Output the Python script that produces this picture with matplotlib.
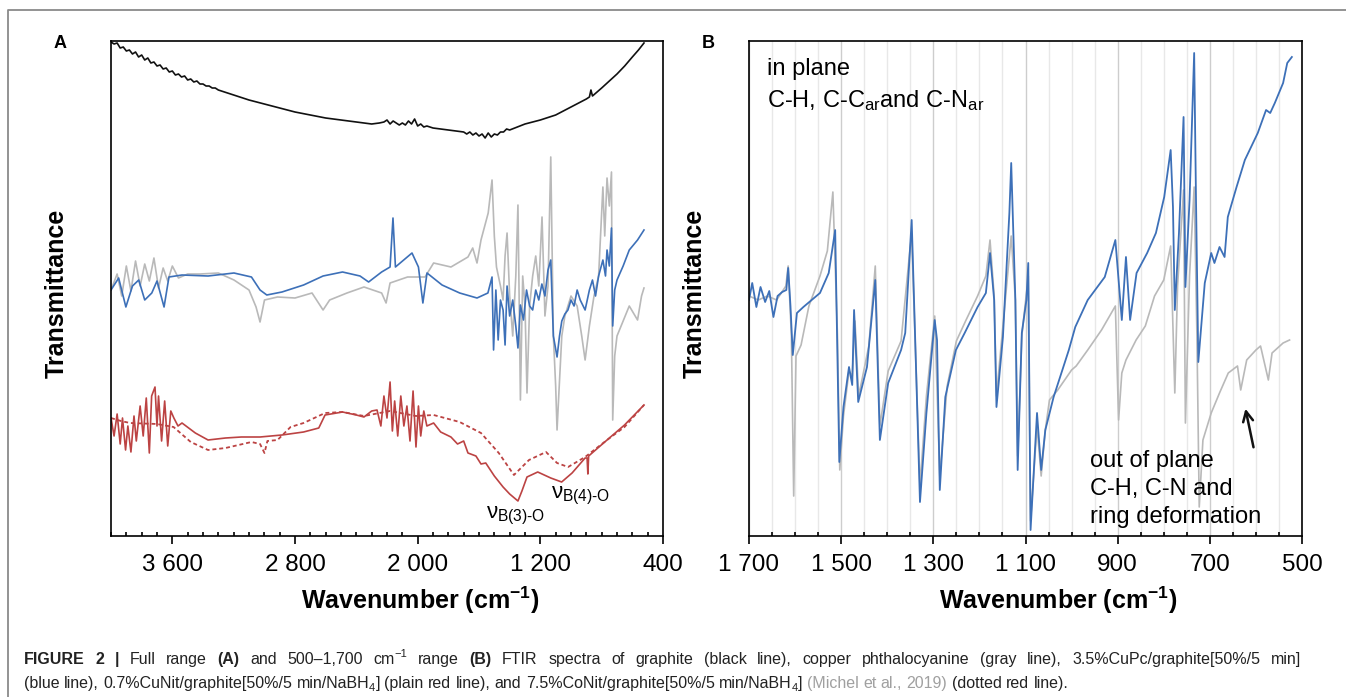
import matplotlib
matplotlib.use("Agg")
import matplotlib.pyplot as plt
from matplotlib.ticker import FixedLocator, MultipleLocator, FuncFormatter

plt.rcParams['font.family'] = ['Liberation Sans', 'DejaVu Sans']
plt.rcParams['mathtext.fontset'] = 'custom'
plt.rcParams['mathtext.rm'] = 'Liberation Sans'
plt.rcParams['mathtext.it'] = 'Liberation Sans:italic'
plt.rcParams['mathtext.bf'] = 'Liberation Sans:bold'

# ---------- data (transmittance in arbitrary units) ----------

# panel A, graphite (black)
a_graphite_wn = [4000, 3980, 3960, 3940, 3920, 3900, 3880, 3860, 3840, 3820, 3800, 3780, 3760, 3740,
                 3720, 3700, 3680, 3660, 3640, 3620, 3600, 3580, 3560, 3540, 3520, 3500, 3480, 3460,
                 3440, 3420, 3400, 3380, 3360, 3340, 3320, 3300, 3200, 3100, 3000, 2900, 2800, 2700,
                 2600, 2500, 2400, 2300, 2250, 2220, 2200, 2180, 2160, 2140, 2120, 2100, 2080, 2060,
                 2040, 2020, 2000, 1980, 1960, 1940, 1900, 1850, 1800, 1750, 1700, 1680, 1660, 1640,
                 1620, 1600, 1580, 1560, 1540, 1520, 1500, 1480, 1460, 1440, 1420, 1400, 1350, 1300,
                 1200, 1100, 1000, 950, 900, 880, 870, 860, 800, 750, 700, 650, 600, 560, 524]
a_graphite_t = [494, 492, 493, 488, 489, 485, 486, 482, 484, 479, 481, 476, 478, 473,
                474, 470, 471, 467, 468, 464, 465, 461, 462, 459, 460, 456, 457, 454,
                455, 452, 452, 450, 450, 448, 448, 446, 441, 436, 432, 428, 424, 421,
                418, 416, 414, 412, 413, 414, 416, 412, 415, 413, 411, 413, 411, 415,
                412, 417, 410, 412, 409, 410, 408, 407, 406, 405, 404, 402, 404, 401,
                403, 400, 402, 398, 403, 399, 402, 401, 404, 404, 407, 406, 409, 412,
                416, 421, 429, 433, 437, 439, 446, 440, 448, 455, 462, 470, 479, 486, 493]

# panel A, copper phthalocyanine (gray)
a_cupc_wn = [4000, 3960, 3930, 3900, 3870, 3840, 3810, 3780, 3750, 3720, 3690, 3660, 3630, 3600,
             3560, 3500, 3420, 3300, 3198, 3100, 3054, 3028, 2999, 2914, 2800, 2689, 2617, 2574,
             2461, 2350, 2235, 2206, 2180, 2066, 1952, 1896, 1783, 1672, 1641, 1613, 1587, 1540,
             1515, 1500, 1486, 1460, 1443, 1430, 1417, 1400, 1380, 1360, 1346, 1335, 1330, 1315,
             1300, 1287, 1270, 1250, 1230, 1210, 1189, 1170, 1150, 1132, 1115, 1100, 1091, 1078,
             1060, 1040, 1000, 960, 930, 908, 880, 850, 820, 792, 780, 765, 750, 736, 728, 715,
             700, 660, 620, 566, 540, 524]
a_cupc_t = [246, 262, 240, 270, 245, 275, 250, 272, 255, 278, 248, 268, 255, 270,
            258, 262, 262, 263, 256, 246, 229, 214, 236, 239, 238, 243, 226, 236,
            243, 249, 243, 233, 253, 259, 259, 273, 269, 279, 288, 273, 296, 323,
            356, 300, 269, 250, 236, 280, 303, 240, 200, 260, 331, 200, 136, 260,
            230, 143, 230, 260, 280, 250, 319, 220, 250, 379, 200, 150, 106, 146,
            200, 220, 240, 230, 200, 176, 210, 240, 260, 349, 300, 358, 330, 364, 116, 180,
            200, 215, 230, 216, 240, 248]

# panel A, 3.5%CuPc/graphite (blue)
a_cupc_g_wn = [4000, 3950, 3903, 3860, 3819, 3780, 3734, 3700, 3654, 3622, 3537, 3367, 3198, 3084,
               3028, 2984, 2885, 2744, 2617, 2490, 2376, 2320, 2235, 2180, 2161, 2145, 2037, 1995,
               1966, 1939, 1841, 1726, 1613, 1542, 1515, 1505, 1490, 1475, 1460, 1443, 1430, 1417,
               1400, 1380, 1360, 1346, 1330, 1310, 1290, 1270, 1250, 1230, 1210, 1190, 1170, 1150,
               1132, 1115, 1091, 1075, 1060, 1040, 1020, 1000, 980, 960, 940, 908, 880, 860, 840,
               820, 792, 775, 765, 750, 736, 728, 715, 700, 660, 620, 566, 524]
a_cupc_g_t = [246, 258, 229, 250, 256, 236, 243, 255, 229, 259, 261, 260, 263, 259,
              246, 241, 244, 251, 260, 264, 260, 254, 264, 269, 318, 269, 283, 269,
              233, 263, 251, 243, 238, 243, 259, 186, 246, 196, 236, 226, 191, 250,
              220, 236, 210, 188, 231, 216, 246, 230, 226, 246, 236, 252, 240, 266,
              276, 200, 179, 200, 215, 222, 226, 236, 230, 246, 236, 226, 246, 256, 240,
              260, 276, 260, 286, 270, 308, 210, 246, 256, 270, 286, 296, 306]

# panel A, 0.7%CuNit/graphite (plain red)
a_cunit_wn = [4000, 3980, 3960, 3940, 3925, 3905, 3890, 3870, 3850, 3835, 3810, 3790, 3770, 3750,
              3735, 3713, 3700, 3690, 3670, 3650, 3630, 3610, 3590, 3563, 3537, 3450, 3367, 3253,
              3150, 3028, 2885, 2744, 2645, 2604, 2490, 2400, 2350, 2300, 2265, 2240, 2220, 2200,
              2180, 2165, 2150, 2130, 2110, 2090, 2070, 2050, 2030, 2011, 1995, 1980, 1960, 1940,
              1896, 1850, 1783, 1740, 1700, 1672, 1620, 1587, 1556, 1500, 1443, 1400, 1346, 1320,
              1287, 1217, 1132, 1061, 993, 908, 895, 890, 885, 765, 651, 524]
a_cunit_t = [118, 100, 122, 92, 118, 86, 110, 84, 120, 95, 130, 100, 138, 83,
             140, 149, 110, 140, 95, 135, 90, 125, 118, 110, 113, 103, 96, 98,
             99, 99, 101, 104, 108, 121, 124, 121, 119, 125, 126, 110, 140, 118,
             154, 105, 135, 100, 140, 110, 130, 95, 145, 89, 130, 100, 125, 110,
             113, 104, 99, 92, 95, 83, 80, 72, 73, 60, 49, 42, 35, 45,
             59, 64, 58, 54, 63, 78, 78, 62, 80, 96, 111, 131]

# panel A, 7.5%CoNit/graphite (dotted red)
a_conit_wn = [4000, 3935, 3876, 3700, 3592, 3480, 3367, 3253, 3084, 3028, 2999, 2980, 2914, 2829,
              2744, 2604, 2490, 2350, 2180, 2011, 1896, 1726, 1587, 1471, 1372, 1274, 1163, 1091,
              1019, 908, 765, 651, 524]
a_conit_t = [118, 115, 113, 112, 109, 94, 86, 88, 94, 92, 83, 95, 96, 109,
             113, 123, 124, 120, 125, 120, 121, 114, 103, 83, 61, 76, 84, 73,
             69, 79, 96, 109, 131]

# panel B, 3.5%CuPc/graphite (blue)
b_cupc_g_wn = [1700, 1693, 1684, 1675, 1665, 1656, 1647, 1638, 1628, 1619, 1615, 1610, 1605, 1596,
               1582, 1564, 1546, 1527, 1513, 1504, 1495, 1483, 1476, 1472, 1463, 1444, 1426, 1416,
               1398, 1370, 1361, 1347, 1329, 1315, 1297, 1292, 1286, 1274, 1251, 1232, 1204, 1186,
               1177, 1168, 1163, 1149, 1135, 1131, 1122, 1117, 1108, 1098, 1094, 1089, 1075, 1066,
               1057, 1039, 1020, 1006, 992, 965, 928, 905, 891, 882, 873, 859, 836, 817, 799, 785,
               780, 776, 767, 757, 753, 744, 734, 730, 725, 711, 697, 690, 679, 668, 661, 642, 624,
               596, 578, 569, 559, 541, 532, 522]
b_cupc_g_t = [236, 253, 229, 249, 234, 245, 219, 240, 244, 246, 268, 230, 181, 223,
              229, 236, 243, 263, 306, 74, 129, 169, 151, 226, 134, 169, 256, 96,
              153, 186, 203, 316, 34, 123, 216, 196, 46, 139, 186, 203, 229, 243,
              283, 236, 129, 199, 323, 373, 236, 66, 203, 236, 273, 6, 123, 66,
              106, 139, 166, 186, 209, 236, 259, 296, 216, 279, 216, 263, 283, 303, 339, 386,
              329, 226, 303, 419, 249, 336, 483, 336, 174, 253, 283, 273, 289, 279, 319, 349, 376,
              403, 426, 423, 433, 453, 473, 479]

# panel B, copper phthalocyanine (gray)
b_cupc_wn = [1700, 1680, 1660, 1640, 1620, 1615, 1608, 1603, 1598, 1587, 1570, 1546, 1530, 1518,
             1508, 1503, 1495, 1483, 1476, 1470, 1462, 1440, 1426, 1416, 1398, 1370, 1350, 1347,
             1329, 1315, 1297, 1286, 1270, 1250, 1230, 1204, 1186, 1177, 1168, 1163, 1149, 1131,
             1122, 1117, 1108, 1094, 1089, 1075, 1066, 1057, 1048, 1030, 1000, 990, 965, 935, 905,
             898, 891, 882, 860, 840, 820, 800, 785, 776, 770, 757, 753, 744, 734, 728, 723, 715,
             697, 679, 660, 640, 633, 620, 600, 590, 573, 565, 541, 527]
b_cupc_t = [240, 236, 240, 236, 250, 270, 200, 40, 180, 191, 230, 260, 285, 344,
            200, 66, 120, 165, 160, 215, 140, 190, 270, 110, 165, 195, 290, 300,
            50, 140, 220, 60, 150, 195, 215, 240, 260, 296, 240, 140, 210, 300,
            236, 80, 200, 260, 15, 110, 60, 106, 136, 146, 166, 170, 186, 206, 230,
            116, 163, 176, 196, 210, 240, 256, 290, 143, 250, 346, 113, 260, 349, 200, 29, 96,
            123, 143, 163, 170, 146, 176, 186, 190, 156, 183, 193, 196]

a_ticks = [3600, 2800, 2000, 1200, 400]
b_ticks = [1700, 1500, 1300, 1100, 900, 700, 500]

black = '#111111'
gray = '#b9b9b9'
blue = '#3d70b8'
red = '#bc4343'


def space_thousands(x, pos):
    return f"{int(round(x)):,}".replace(",", " ")


fig = plt.figure(figsize=(13.46, 6.97), dpi=100)
axA = fig.add_axes([111 / 1346, 161 / 697, 552 / 1346, 495 / 697])
axB = fig.add_axes([749 / 1346, 161 / 697, 553 / 1346, 495 / 697])

# ---------- panel A ----------
axA.plot(a_graphite_wn, a_graphite_t, color=black, lw=1.2)
axA.plot(a_cupc_wn, a_cupc_t, color=gray, lw=1.2)
axA.plot(a_cupc_g_wn, a_cupc_g_t, color=blue, lw=1.2)
axA.plot(a_conit_wn, a_conit_t, color=red, lw=1.3, ls=(0, (2.2, 1.6)))
axA.plot(a_cunit_wn, a_cunit_t, color=red, lw=1.2)
axA.set_xlim(4000, 400)
axA.xaxis.set_major_locator(FixedLocator(a_ticks))
axA.xaxis.set_minor_locator(MultipleLocator(100))

axA.text(1554, 9, r'ν$_{\mathregular{B(3)\text{-}O}}$', fontsize=16, ha='left', va='bottom')
axA.text(1130, 29, r'ν$_{\mathregular{B(4)\text{-}O}}$', fontsize=16, ha='left', va='bottom')

# ---------- panel B ----------
axB.plot(b_cupc_wn, b_cupc_t, color=gray, lw=1.2)
axB.plot(b_cupc_g_wn, b_cupc_g_t, color=blue, lw=1.3)
axB.set_xlim(1700, 500)
axB.xaxis.set_major_locator(FixedLocator(b_ticks))
axB.xaxis.set_minor_locator(MultipleLocator(50))
axB.set_axisbelow(True)
axB.xaxis.grid(True, which='minor', color='#e8e8e8', lw=1.0)
axB.xaxis.grid(True, which='major', color='#cdcdcd', lw=1.0)

axB.text(0.033, 0.965, 'in plane', transform=axB.transAxes, fontsize=17, va='top', ha='left')
axB.text(0.033, 0.905, r'C-H, C-C$_{\mathregular{ar}}$and C-N$_{\mathregular{ar}}$',
         transform=axB.transAxes, fontsize=17, va='top', ha='left')
axB.text(960, 86, 'out of plane\nC-H, C-N and\nring deformation', fontsize=17,
         va='top', ha='left', linespacing=1.35)
axB.annotate('', xy=(624, 130), xytext=(604, 86),
             arrowprops=dict(arrowstyle='->', color=black, lw=1.8, mutation_scale=18))

for ax in (axA, axB):
    ax.set_ylim(0, 495)
    ax.set_yticks([])
    ax.xaxis.set_major_formatter(FuncFormatter(space_thousands))
    ax.tick_params(axis='x', which='major', direction='out', length=6, width=1.2,
                   labelsize=17.5, pad=7)
    ax.tick_params(axis='x', which='minor', direction='in', length=3, width=1.2)
    for s in ax.spines.values():
        s.set_linewidth(1.2)
    ax.set_xlabel(r'Wavenumber (cm$^{\mathregular{-1}}$)', fontsize=18, fontweight='bold')
    ax.xaxis.set_label_coords(0.56, -0.098)
    ax.set_ylabel('Transmittance', fontsize=18, fontweight='bold')
    ax.yaxis.set_label_coords(-0.076, 0.49)

fig.text(60 / 1346, 1 - 43 / 697, 'A', fontsize=13, fontweight='bold', ha='center', va='center')
fig.text(708 / 1346, 1 - 43 / 697, 'B', fontsize=13, fontweight='bold', ha='center', va='center')

# frame around the figure (top and left edge visible)
fig.add_artist(plt.Line2D([8 / 1346, 8 / 1346, 1], [0, 1 - 10 / 697, 1 - 10 / 697],
                          transform=fig.transFigure, color='#8a8a8a', lw=1.3))

# ---------- caption, built from styled runs (first line justified) ----------
cap_size = 11.5
cap_family = ['Liberation Sans']
line1 = [("FIGURE 2 |", 'bold'), (" Full range", 'n'), (" (A)", 'bold'),
         (" and 500–1,700 cm", 'n'), ("−1", 'sup'), (" range", 'n'), (" (B)", 'bold'),
         (" FTIR spectra of graphite (black line), copper phthalocyanine (gray line), "
          "3.5%CuPc/graphite[50%/5 min]", 'n')]
line2 = [("(blue line), 0.7%CuNit/graphite[50%/5 min/NaBH", 'n'), ("4", 'sub'),
         ("] (plain red line), and 7.5%CoNit/graphite[50%/5 min/NaBH", 'n'), ("4", 'sub'),
         ("]", 'n'), (" (Michel et al., 2019)", 'grey'), (" (dotted red line).", 'n')]


def caption_line(runs, x0, y0):
    # split runs into words so the gaps can be widened for justification
    pieces = []
    for text, style in runs:
        words = text.split(' ')
        for i, w in enumerate(words):
            if w == '':
                continue
            gap = i > 0 or text.startswith(' ')
            pieces.append((w, style, gap))
    placed = []
    prev = None
    for text, style, gap in pieces:
        kw = dict(fontsize=cap_size, color='#222222', family=cap_family,
                  ha='left', va='baseline', annotation_clip=False)
        dx = cap_size * 0.278 if gap else 0.0
        dy = 0.0
        if style == 'bold':
            kw['fontweight'] = 'bold'
        elif style == 'sup':
            kw['fontsize'] = cap_size * 0.7
            dy = cap_size * 0.45
        elif style == 'sub':
            kw['fontsize'] = cap_size * 0.7
            dy = -cap_size * 0.2
        elif style == 'grey':
            kw['color'] = '#a0a0a0'
        if prev is None:
            prev = axA.annotate(text, xy=(x0, y0), xycoords='figure fraction', **kw)
        else:
            prev = axA.annotate(text, xy=(1, y0), xycoords=(prev, 'figure fraction'),
                                xytext=(dx, dy), textcoords='offset points', **kw)
        placed.append((prev, dx, dy, gap))
    return placed


def justify(placed, right_px):
    fig.canvas.draw()
    r = fig.canvas.get_renderer()
    last = placed[-1][0].get_window_extent(r).x1
    n_gaps = sum(1 for p in placed[1:] if p[3])
    extra = (right_px - last) / n_gaps * 72 / fig.dpi
    for ann, dx, dy, gap in placed[1:]:
        if gap:
            ann.xyann = (dx + extra, dy)


cap1 = caption_line(line1, 24 / 1346, 1 - 664 / 697)
cap2 = caption_line(line2, 24 / 1346, 1 - 688 / 697)
justify(cap1, 1301)

fig.savefig("out.png", dpi=100)
